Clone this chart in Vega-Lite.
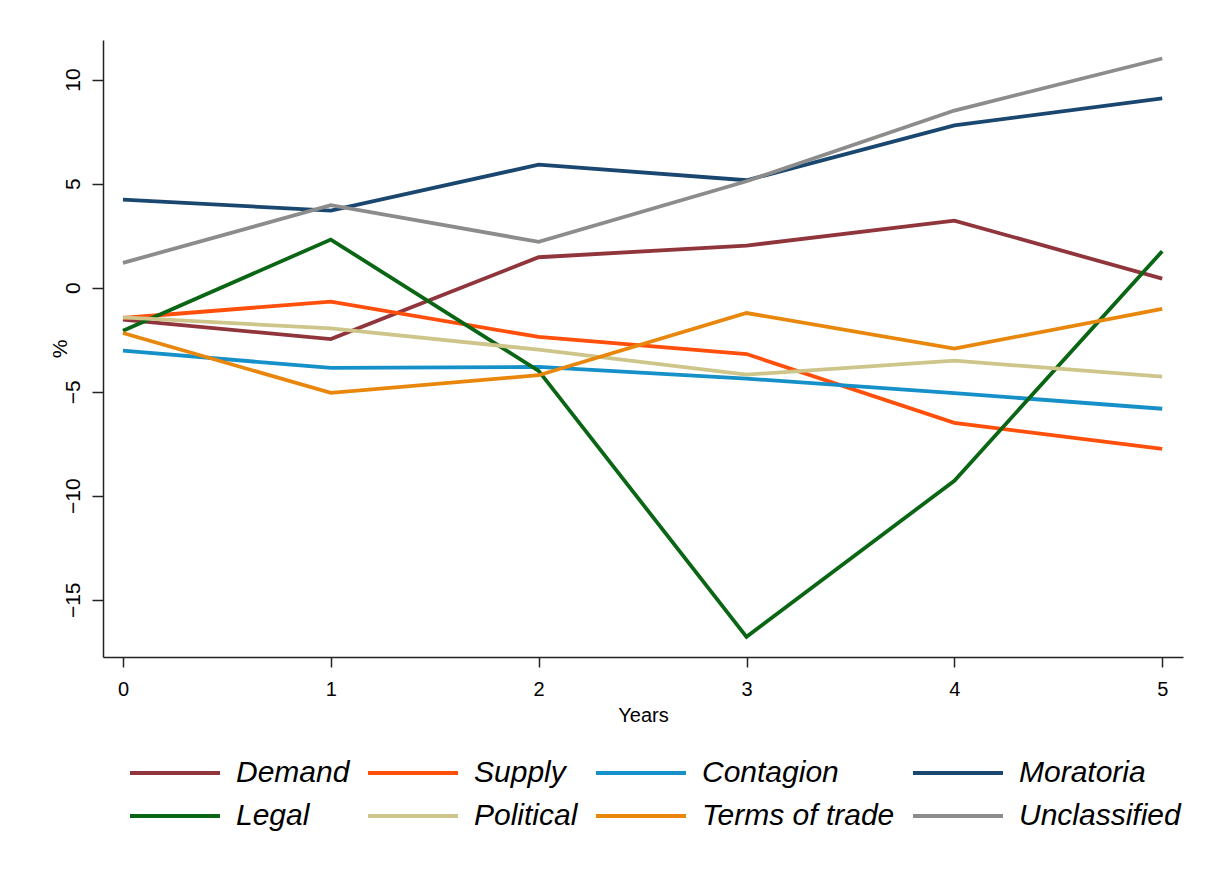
{
  "$schema": "https://vega.github.io/schema/vega-lite/v6.json",
  "width": 1080,
  "height": 617,
  "autosize": {"type": "none"},
  "padding": {"left": 103, "top": 40, "right": 25, "bottom": 213},
  "background": "white",
  "config": {
    "view": {"stroke": null},
    "font": "Liberation Sans",
    "axis": {"grid": false, "domainColor": "#222", "tickColor": "#222", "domainWidth": 1.5, "tickWidth": 1.5, "labelColor": "#000", "titleColor": "#000", "titleFontWeight": "normal", "labelFont": "Liberation Sans", "titleFont": "Liberation Sans"}
  },
  "datasets": {
    "series": [
      {"year": 0, "cause": "Demand", "value": -1.54},
      {"year": 1, "cause": "Demand", "value": -2.47},
      {"year": 2, "cause": "Demand", "value": 1.46},
      {"year": 3, "cause": "Demand", "value": 2.02},
      {"year": 4, "cause": "Demand", "value": 3.22},
      {"year": 5, "cause": "Demand", "value": 0.43},
      {"year": 0, "cause": "Supply", "value": -1.46},
      {"year": 1, "cause": "Supply", "value": -0.67},
      {"year": 2, "cause": "Supply", "value": -2.37},
      {"year": 3, "cause": "Supply", "value": -3.19},
      {"year": 4, "cause": "Supply", "value": -6.5},
      {"year": 5, "cause": "Supply", "value": -7.75},
      {"year": 0, "cause": "Contagion", "value": -3.03},
      {"year": 1, "cause": "Contagion", "value": -3.86},
      {"year": 2, "cause": "Contagion", "value": -3.81},
      {"year": 3, "cause": "Contagion", "value": -4.37},
      {"year": 4, "cause": "Contagion", "value": -5.07},
      {"year": 5, "cause": "Contagion", "value": -5.82},
      {"year": 0, "cause": "Moratoria", "value": 4.23},
      {"year": 1, "cause": "Moratoria", "value": 3.7},
      {"year": 2, "cause": "Moratoria", "value": 5.91},
      {"year": 3, "cause": "Moratoria", "value": 5.16},
      {"year": 4, "cause": "Moratoria", "value": 7.8},
      {"year": 5, "cause": "Moratoria", "value": 9.09},
      {"year": 0, "cause": "Legal", "value": -2.07},
      {"year": 1, "cause": "Legal", "value": 2.31},
      {"year": 2, "cause": "Legal", "value": -4.0},
      {"year": 3, "cause": "Legal", "value": -16.78},
      {"year": 4, "cause": "Legal", "value": -9.28},
      {"year": 5, "cause": "Legal", "value": 1.75},
      {"year": 0, "cause": "Political", "value": -1.43},
      {"year": 1, "cause": "Political", "value": -1.96},
      {"year": 2, "cause": "Political", "value": -2.98},
      {"year": 3, "cause": "Political", "value": -4.18},
      {"year": 4, "cause": "Political", "value": -3.51},
      {"year": 5, "cause": "Political", "value": -4.28},
      {"year": 0, "cause": "Terms of trade", "value": -2.18},
      {"year": 1, "cause": "Terms of trade", "value": -5.06},
      {"year": 2, "cause": "Terms of trade", "value": -4.21},
      {"year": 3, "cause": "Terms of trade", "value": -1.22},
      {"year": 4, "cause": "Terms of trade", "value": -2.93},
      {"year": 5, "cause": "Terms of trade", "value": -1.02},
      {"year": 0, "cause": "Unclassified", "value": 1.19},
      {"year": 1, "cause": "Unclassified", "value": 3.96},
      {"year": 2, "cause": "Unclassified", "value": 2.2},
      {"year": 3, "cause": "Unclassified", "value": 5.11},
      {"year": 4, "cause": "Unclassified", "value": 8.51},
      {"year": 5, "cause": "Unclassified", "value": 11.01}
    ]
  },
  "layer": [
    {
      "mark": {"type": "rule", "color": "#000", "strokeWidth": 1.5},
      "encoding": {
        "x": {"datum": 0, "type": "quantitative"},
        "x2": {"datum": 5},
        "y": {"datum": 0, "type": "quantitative"}
      }
    },
    {
      "data": {"name": "series"},
      "mark": {"type": "line", "strokeWidth": 3.8},
      "encoding": {
        "x": {
          "field": "year", "type": "quantitative",
          "scale": {"domain": [-0.096, 5.1], "nice": false, "zero": false},
          "axis": {"title": "Years", "values": [0, 1, 2, 3, 4, 5], "format": "d", "labelFontSize": 20, "titleFontSize": 20, "tickSize": 10, "labelPadding": 12, "titlePadding": 6, "labelFlush": false}
        },
        "y": {
          "field": "value", "type": "quantitative",
          "scale": {"domain": [-17.75, 11.9], "nice": false, "zero": false},
          "axis": {"title": "%", "values": [-15, -10, -5, 0, 5, 10], "labelAngle": -90, "labelAlign": "center", "labelBaseline": "bottom", "labelFontSize": 21, "titleFontSize": 21, "tickSize": 11, "labelPadding": 9, "titlePadding": -8, "labelFlush": false}
        },
        "color": {
          "field": "cause", "type": "nominal",
          "scale": {
            "domain": ["Demand", "Supply", "Contagion", "Moratoria", "Legal", "Political", "Terms of trade", "Unclassified"],
            "range": ["#90353b", "#ff4f0a", "#1590c8", "#1a476f", "#0a6614", "#cdc58a", "#e8870c", "#8c8c8c"]
          },
          "legend": {
            "title": null,
            "orient": "none",
            "legendX": 25,
            "legendY": 716,
            "direction": "horizontal",
            "columns": 4,
            "padding": 0,
            "symbolType": "M-1,0H5",
            "symbolSize": 900,
            "symbolStrokeWidth": 4,
            "symbolFillColor": "transparent",
            "labelFont": "Liberation Sans",
            "labelFontSize": 30,
            "labelFontStyle": "italic",
            "labelColor": "#000",
            "labelOffset": 74,
            "labelLimit": 400,
            "columnPadding": 10,
            "rowPadding": 11
          }
        }
      }
    }
  ]
}
